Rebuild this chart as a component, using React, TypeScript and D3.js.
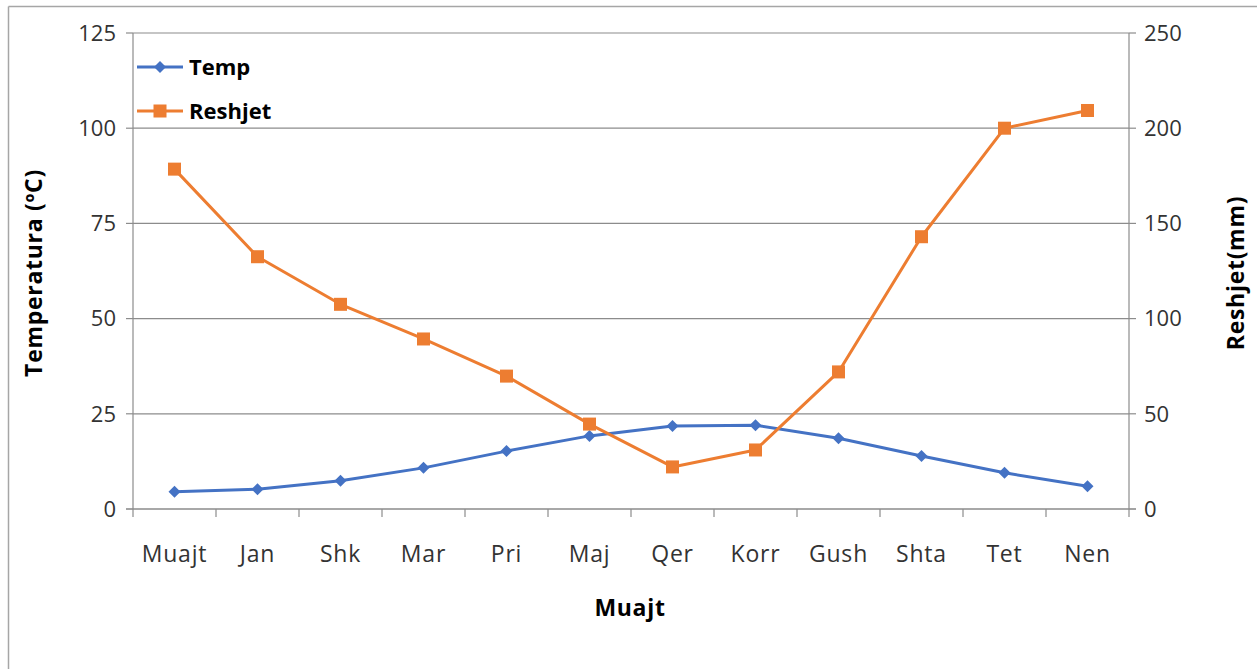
import React from "react";
import * as d3 from "d3";

const months = ["Muajt", "Jan", "Shk", "Mar", "Pri", "Maj", "Qer", "Korr", "Gush", "Shta", "Tet", "Nen"];
const tempValues = [4.5, 5.2, 7.4, 10.8, 15.2, 19.2, 21.8, 22.0, 18.6, 13.9, 9.5, 6.0];
const rainValues = [178.5, 132.5, 107.5, 89.3, 69.8, 44.6, 22.1, 31.0, 72.0, 143.0, 200.0, 209.3];
const leftTicks = [0, 25, 50, 75, 100, 125];
const rightTicks = [0, 50, 100, 150, 200, 250];

const W = 1257;
const H = 669;
const M = { left: 133, right: 1129, top: 33, bottom: 509 };
const FONT = "'Open Sans', sans-serif";
const FS = 22;
const BLUE = "#4472C4";
const ORANGE = "#ED7D31";
const GRID = "#8c8c8c";
const TEXT = "#333333";

export default function App() {
  const x = d3.scaleBand<string>().domain(months).range([M.left, M.right]);
  const yL = d3.scaleLinear().domain([0, 125]).range([M.bottom, M.top]);
  const yR = d3.scaleLinear().domain([0, 250]).range([M.bottom, M.top]);
  const cx = (m: string) => (x(m) as number) + x.bandwidth() / 2;

  const tempLine = d3.line<number>().x((_, i) => cx(months[i])).y((d) => yL(d));
  const rainLine = d3.line<number>().x((_, i) => cx(months[i])).y((d) => yR(d));

  const boundaries = d3.range(months.length + 1).map((i) => M.left + i * x.bandwidth());
  const diamond = (px: number, py: number, r: number) =>
    `M${px},${py - r}L${px + r},${py}L${px},${py + r}L${px - r},${py}Z`;

  return (
    <svg width={W} height={H} style={{ position: "absolute", left: 0, top: 0, background: "#fff" }}>
      <rect x={0} y={0} width={W} height={H} fill="#fff" />
      {/* outer border */}
      <line x1={8.5} y1={6.5} x2={W} y2={6.5} stroke="#a6a6a6" strokeWidth={1.5} />
      <line x1={8.5} y1={6.5} x2={8.5} y2={H} stroke="#a6a6a6" strokeWidth={1.5} />

      {/* gridlines */}
      {leftTicks.map((t) => (
        <line key={"g" + t} x1={M.left} x2={M.right} y1={yL(t)} y2={yL(t)} stroke={GRID} strokeWidth={1.2} />
      ))}
      {/* left axis */}
      <line x1={M.left} x2={M.left} y1={M.top} y2={M.bottom} stroke={GRID} strokeWidth={1.2} />
      {leftTicks.map((t) => (
        <g key={"l" + t}>
          <line x1={M.left - 7} x2={M.left} y1={yL(t)} y2={yL(t)} stroke={GRID} strokeWidth={1.2} />
          <text x={M.left - 17} y={yL(t)} dy="0.35em" textAnchor="end" fontFamily={FONT} fontSize={FS} fill={TEXT}>
            {t}
          </text>
        </g>
      ))}
      {/* right axis */}
      <line x1={M.right} x2={M.right} y1={M.top} y2={M.bottom} stroke={GRID} strokeWidth={1.2} />
      {rightTicks.map((t) => (
        <g key={"r" + t}>
          <line x1={M.right} x2={M.right + 7} y1={yR(t)} y2={yR(t)} stroke={GRID} strokeWidth={1.2} />
          <text x={M.right + 15} y={yR(t)} dy="0.35em" textAnchor="start" fontFamily={FONT} fontSize={FS} fill={TEXT}>
            {t}
          </text>
        </g>
      ))}
      {/* x axis */}
      <line x1={M.left - 7} x2={M.right + 7} y1={M.bottom} y2={M.bottom} stroke={GRID} strokeWidth={1.2} />
      {boundaries.map((b, i) => (
        <line key={"b" + i} x1={b} x2={b} y1={M.bottom} y2={M.bottom + 8} stroke={GRID} strokeWidth={1.2} />
      ))}
      {months.map((m) => (
        <text
          key={"m" + m}
          x={cx(m)}
          y={554}
          dy="0.35em"
          textAnchor="middle"
          fontFamily={FONT}
          fontSize={23}
          letterSpacing={0.8}
          fill={TEXT}
        >
          {m}
        </text>
      ))}

      {/* axis titles */}
      <text
        transform={`translate(34,${(M.top + M.bottom) / 2 + 2}) rotate(-90)`}
        textAnchor="middle"
        dy="0.35em"
        fontFamily={FONT}
        fontSize={23}
        letterSpacing={0.7}
        fontWeight="bold"
        fill="#000"
      >
        Temperatura (ºC)
      </text>
      <text
        transform={`translate(1236,${(M.top + M.bottom) / 2 + 2}) rotate(-90)`}
        textAnchor="middle"
        dy="0.35em"
        fontFamily={FONT}
        fontSize={23}
        letterSpacing={0.7}
        fontWeight="bold"
        fill="#000"
      >
        Reshjet(mm)
      </text>
      <text
        x={630}
        y={608}
        dy="0.35em"
        textAnchor="middle"
        fontFamily={FONT}
        fontSize={23}
        letterSpacing={0.7}
        fontWeight="bold"
        fill="#000"
      >
        Muajt
      </text>

      {/* series */}
      <path d={tempLine(tempValues) || ""} fill="none" stroke={BLUE} strokeWidth={3} strokeLinejoin="round" />
      {tempValues.map((v, i) => (
        <path key={"t" + i} d={diamond(cx(months[i]), yL(v), 6)} fill={BLUE} />
      ))}
      <path d={rainLine(rainValues) || ""} fill="none" stroke={ORANGE} strokeWidth={3} strokeLinejoin="round" />
      {rainValues.map((v, i) => (
        <rect key={"r" + i} x={cx(months[i]) - 6.5} y={yR(v) - 6.5} width={13} height={13} fill={ORANGE} />
      ))}

      {/* legend */}
      <line x1={137} x2={183} y1={67} y2={67} stroke={BLUE} strokeWidth={3} />
      <path d={diamond(160, 67, 6)} fill={BLUE} />
      <text x={189} y={67} dy="0.35em" fontFamily={FONT} fontSize={FS} fontWeight="bold" fill="#000">
        Temp
      </text>
      <line x1={137} x2={183} y1={111} y2={111} stroke={ORANGE} strokeWidth={3} />
      <rect x={153.5} y={104.5} width={13} height={13} fill={ORANGE} />
      <text x={189} y={111} dy="0.35em" fontFamily={FONT} fontSize={FS} fontWeight="bold" fill="#000">
        Reshjet
      </text>
    </svg>
  );
}
